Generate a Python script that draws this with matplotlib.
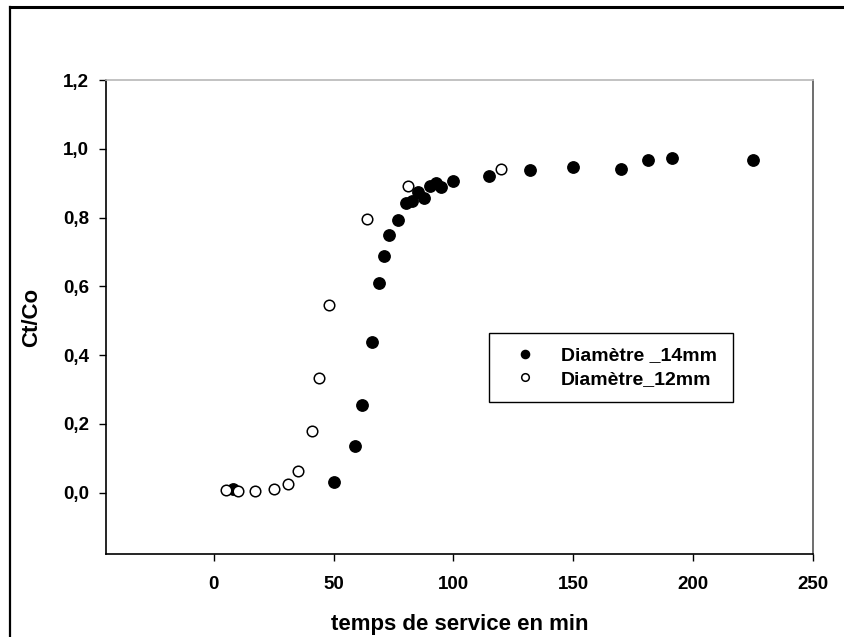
import matplotlib
matplotlib.use("Agg")
import matplotlib.pyplot as plt
from matplotlib.lines import Line2D
from matplotlib.ticker import FuncFormatter

plt.rcParams['font.family'] = ['Liberation Sans', 'DejaVu Sans']
plt.rcParams['font.weight'] = 'bold'

# Breakthrough data: Ct/Co versus service time (min)
time_14mm = [8, 50, 59, 62, 66, 69, 71, 73, 77, 80, 82.5, 85, 87.5, 90,
             92.5, 95, 100, 115, 132, 150, 170, 181, 191, 225]
ratio_14mm = [0.010, 0.032, 0.137, 0.254, 0.437, 0.611, 0.687, 0.749, 0.794,
              0.842, 0.848, 0.873, 0.858, 0.892, 0.900, 0.889, 0.905, 0.920,
              0.938, 0.947, 0.942, 0.967, 0.972, 0.968]

time_12mm = [5, 10, 17, 25, 31, 35, 41, 44, 48, 64, 81, 120]
ratio_12mm = [0.009, 0.006, 0.006, 0.011, 0.025, 0.063, 0.181, 0.335, 0.545,
              0.797, 0.893, 0.941]

label_14mm = "Diamètre _14mm"
label_12mm = "Diamètre_12mm"
x_ticks = [0, 50, 100, 150, 200, 250]
y_ticks = [0.0, 0.2, 0.4, 0.6, 0.8, 1.0, 1.2]

fig = plt.figure(figsize=(8.45, 6.37), dpi=100)
ax = fig.add_axes([0.1254, 0.1303, 0.8367, 0.7441])

ax.plot(time_14mm, ratio_14mm, linestyle='none', marker='o', markersize=8.2,
        markerfacecolor='black', markeredgecolor='black', label=label_14mm,
        zorder=3)
ax.plot(time_12mm, ratio_12mm, linestyle='none', marker='o', markersize=7.6,
        markerfacecolor='white', markeredgecolor='black', markeredgewidth=1.1,
        label=label_12mm, zorder=4)

ax.set_xlim(-45, 250)
ax.set_ylim(-0.178, 1.2)
ax.set_xticks(x_ticks)
ax.set_yticks(y_ticks)
ax.yaxis.set_major_formatter(FuncFormatter(lambda v, p: f"{v:.1f}".replace('.', ',')))

ax.tick_params(axis='both', direction='out', length=5, width=1,
               labelsize=13.5, top=False, right=False)
ax.tick_params(axis='y', pad=7)
ax.tick_params(axis='x', pad=11)
for lab in ax.get_xticklabels() + ax.get_yticklabels():
    lab.set_fontweight('bold')

ax.spines['left'].set_linewidth(1.2)
ax.spines['bottom'].set_linewidth(1.2)
ax.spines['top'].set_color('#b8b8b8')
ax.spines['top'].set_linewidth(1.2)
ax.spines['right'].set_color('#555555')
ax.spines['right'].set_linewidth(1.2)

ax.set_xlabel("temps de service en min", fontsize=16, fontweight='bold', labelpad=15)
ax.set_ylabel("Ct/Co", fontsize=16, fontweight='bold', labelpad=15)

leg = ax.legend(loc='center', bbox_to_anchor=(0.542, 0.3186, 0.345, 0.15),
                mode='expand', fancybox=False, framealpha=1, edgecolor='black',
                prop={'size': 14, 'weight': 'bold'}, markerscale=0.72,
                handlelength=2.2, handletextpad=0.75, labelspacing=0.3,
                borderpad=0.72, borderaxespad=0)
leg.get_frame().set_linewidth(1.0)

# Frame around the figure (left and top edges)
fig.add_artist(Line2D([0.0124, 0.0124], [0.0, 0.9886], transform=fig.transFigure,
                      color='black', linewidth=1.6))
fig.add_artist(Line2D([0.0118, 1.0], [0.9886, 0.9886], transform=fig.transFigure,
                      color='black', linewidth=2.2))

fig.savefig("out.png", dpi=100)
